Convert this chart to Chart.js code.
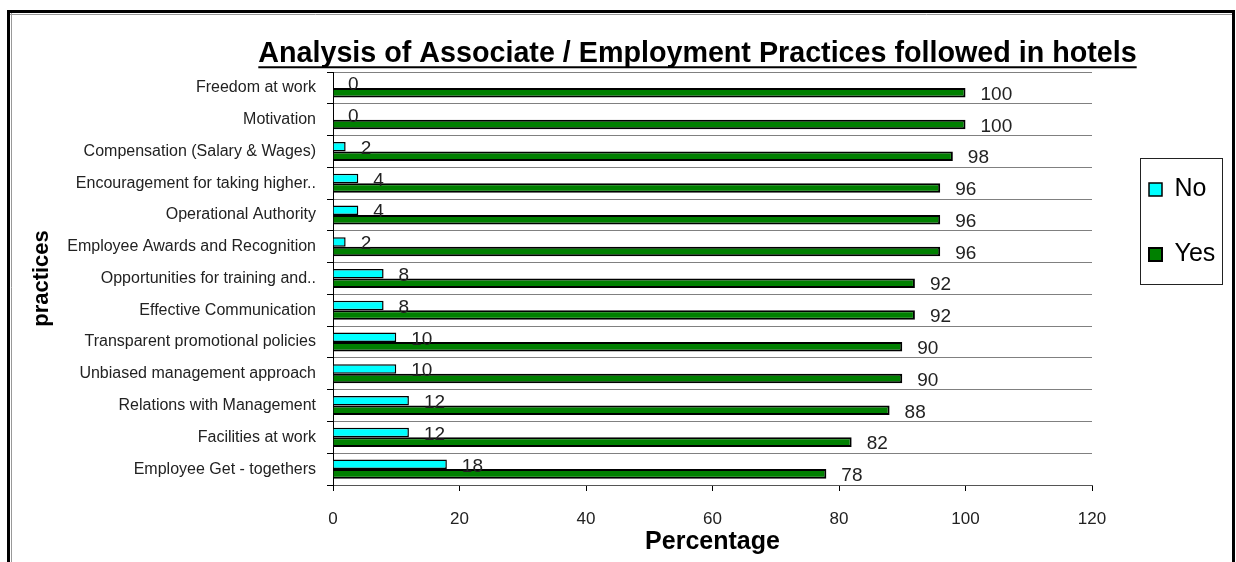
<!DOCTYPE html>
<html><head><meta charset="utf-8">
<script src="https://cdn.jsdelivr.net/npm/chart.js@4/dist/chart.umd.min.js"></script>
<style>html,body{margin:0;padding:0;background:#fff;overflow:hidden}canvas{display:block}</style>
</head><body>
<canvas id="c" width="1236" height="562" style="width:1236px;height:562px"></canvas>
<script>
const categories = ["Freedom at work","Motivation","Compensation (Salary & Wages)","Encouragement for taking higher..","Operational Authority","Employee Awards and Recognition","Opportunities for training and..","Effective Communication","Transparent promotional policies","Unbiased management approach","Relations with Management","Facilities at work","Employee Get - togethers"];
const noValues = [0,0,2,4,4,2,8,8,10,10,12,12,18];
const yesValues = [100,100,98,96,96,96,92,92,90,90,88,82,78];
const xTicks = [0,20,40,60,80,100,120];
const seriesNames = ["No","Yes"];
const titleText = "Analysis of Associate / Employment Practices followed in hotels";
const xTitle = "Percentage";
const yTitle = "practices";

const FONT = "'Liberation Sans', Arial, Helvetica, sans-serif";
const TITLE_SIZE = 28.7;
const TITLE_PAD_TOP = 36.5;

const framePlugin = {
  id: 'frame',
  beforeDraw(chart) {
    const ctx = chart.ctx;
    ctx.save();
    ctx.fillStyle = '#fff';
    ctx.fillRect(0, 0, chart.width, chart.height);
    ctx.strokeStyle = '#000';
    ctx.lineWidth = 3;
    ctx.strokeRect(8.5, 11.5, 1225, 600);
    ctx.strokeStyle = '#999';
    ctx.lineWidth = 1;
    ctx.beginPath();
    ctx.moveTo(11.5, 13); ctx.lineTo(11.5, chart.height);
    ctx.moveTo(10, 14.5); ctx.lineTo(1232, 14.5);
    ctx.stroke();
    ctx.restore();
  },
  afterLayout(chart) {
    const tb = chart.titleBlock;
    tb.left = 0; tb.right = 1395; tb.width = 1395;
    const lg = chart.legend;
    const pad = lg.options.labels.padding;
    lg.left = 1149 - pad; lg.width = 200; lg.right = lg.left + lg.width;
    lg.top = 177 - pad; lg.height = 320; lg.bottom = lg.top + lg.height;
  },
  afterDraw(chart) {
    const ctx = chart.ctx;
    const tb = chart.titleBlock;
    ctx.save();
    ctx.font = `bold ${TITLE_SIZE}px ${FONT}`;
    const w = ctx.measureText(titleText).width;
    const cx = (tb.left + tb.right) / 2;
    const cy = tb.top + TITLE_PAD_TOP + TITLE_SIZE * 1.2 / 2;
    ctx.fillStyle = '#000';
    ctx.fillRect(cx - w / 2, cy + 0.35 * TITLE_SIZE + 2.5, w, 2);
    // legend frame
    const lg = chart.legend;
    const pad = lg.options.labels.padding;
    const x0 = lg.left + pad - 9, y0 = lg.top + pad - 19;
    ctx.strokeStyle = '#222';
    ctx.lineWidth = 1;
    ctx.strokeRect(Math.round(x0) + 0.5, Math.round(y0) + 0.5, 82, 126);
    ctx.restore();
  }
};

const valueLabels = {
  id: 'valueLabels',
  afterDatasetsDraw(chart) {
    const ctx = chart.ctx;
    ctx.save();
    ctx.font = `19px ${FONT}`;
    ctx.fillStyle = '#222';
    ctx.textAlign = 'left';
    ctx.textBaseline = 'middle';
    chart.data.datasets.forEach((ds, i) => {
      const meta = chart.getDatasetMeta(i);
      meta.data.forEach((el, j) => {
        ctx.fillText(String(ds.data[j]), el.x + 15, el.y + 2);
      });
    });
    ctx.restore();
  }
};

new Chart(document.getElementById('c'), {
  type: 'bar',
  data: {
    labels: categories,
    datasets: [
      {label: seriesNames[0], data: noValues, backgroundColor: '#00FFFF', borderColor: '#000', borderWidth: 1.5, categoryPercentage: 0.6, barPercentage: 1},
      {label: seriesNames[1], data: yesValues, backgroundColor: '#008000', borderColor: '#000', borderWidth: 2, categoryPercentage: 0.6, barPercentage: 1}
    ]
  },
  options: {
    indexAxis: 'y',
    responsive: false,
    animation: false,
    devicePixelRatio: 1,
    layout: {padding: {left: 0, right: 144, top: 0, bottom: 0}},
    scales: {
      x: {
        min: 0, max: 120,
        afterBuildTicks: s => { s.ticks = xTicks.map(v => ({value: v})); },
        afterFit: s => { s.height = 77; },
        grid: {drawOnChartArea: false, drawTicks: true, tickLength: 6, tickColor: '#000'},
        border: {display: true, color: '#555', width: 1},
        ticks: {padding: 18, font: {family: FONT, size: 17}, color: '#222', maxRotation: 0},
        title: {display: true, text: xTitle, font: {family: FONT, size: 25, weight: 'bold'}, color: '#000', padding: {top: 0, bottom: 5}}
      },
      y: {
        afterFit: s => { s.width = 333; },
        grid: {offset: true, color: '#808080', tickColor: '#000', tickLength: 6, drawTicks: true},
        border: {display: true, color: '#000', width: 1},
        ticks: {padding: 11, font: {family: FONT, size: 16}, color: '#222', autoSkip: false},
        title: {display: true, text: yTitle, font: {family: FONT, size: 22, weight: 'bold'}, color: '#000', padding: {top: 29, bottom: 0}}
      }
    },
    plugins: {
      title: {display: true, text: titleText, font: {family: FONT, size: TITLE_SIZE, weight: 'bold', lineHeight: 1.2}, color: '#000', padding: {top: TITLE_PAD_TOP, bottom: 72 - TITLE_PAD_TOP - TITLE_SIZE * 1.2}},
      legend: {position: 'chartArea', align: 'start', labels: {font: {family: FONT, size: 25}, color: '#000', boxWidth: 13, boxHeight: 13, padding: 40}},
      tooltip: {enabled: false}
    }
  },
  plugins: [framePlugin, valueLabels]
});
</script>
</body></html>
